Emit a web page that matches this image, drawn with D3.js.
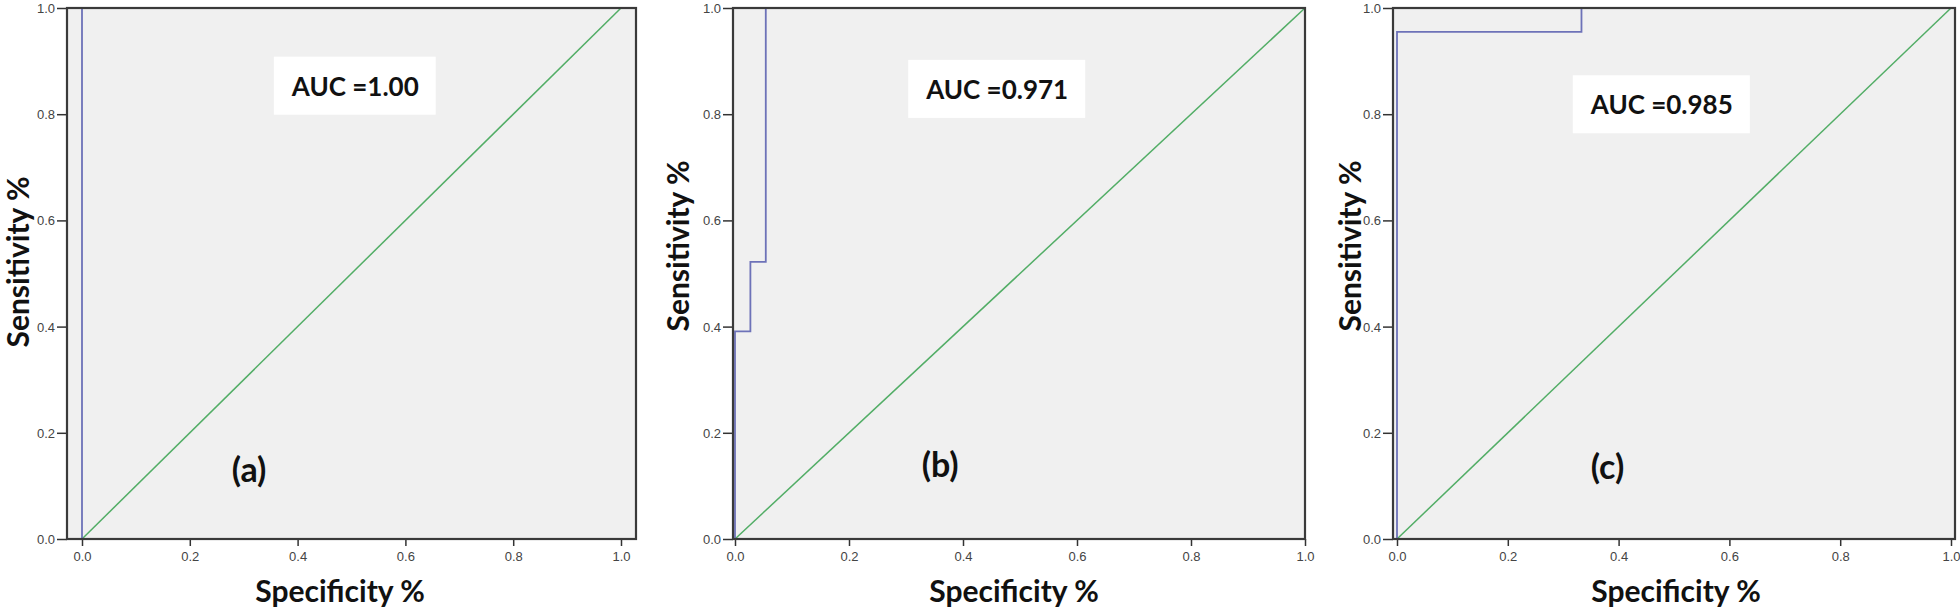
<!DOCTYPE html>
<html>
<head>
<meta charset="utf-8">
<script src="https://cdn.jsdelivr.net/npm/d3@7"></script>
<style>
  body { margin: 0; background: #fff; }
  .tick text { font-family: "Liberation Sans", Arial, sans-serif; font-size: 13px; fill: #444; }
  .axis-title { font-family: Lato, "Open Sans", sans-serif; font-weight: bold; font-size: 30px; fill: #111; }
  .auc { font-family: Lato, "Open Sans", sans-serif; font-weight: bold; font-size: 26px; fill: #111; }
  .plabel { font-family: Lato, "Open Sans", sans-serif; font-weight: bold; font-size: 34px; fill: #111; }
</style>
</head>
<body>
<div id="container"></div>
<script>
/* DATA */
const ticks = [0, 0.2, 0.4, 0.6, 0.8, 1.0];
const panelLabels = ["(a)", "(b)", "(c)"];
const aucLabels = ["AUC =1.00", "AUC =0.971", "AUC =0.985"];
const xTitle = "Specificity %";
const yTitle = "Sensitivity %";

// roc curves (x as plotted, y = sensitivity)
const specA = [0, 0, 1];
const sensA = [0, 1, 1];
const specB = [0, 0, 0.027, 0.027, 0.054, 0.054, 1];
const sensB = [0, 0.391, 0.391, 0.522, 0.522, 1, 1];
const specC = [0, 0, 0.333, 0.333, 1];
const sensC = [0, 0.955, 0.955, 1, 1];
// reference diagonal
const refLine = [0, 1];

/* LAYOUT */
const width = 1960, height = 609;
const panels = [
  { frame: [67, 636], xr: [82, 621], spec: specA, sens: sensA, auc: [0.507, 0.852], lab: [0.31, 0.13], xt: 340, yt: 18, yc: 262 },
  { frame: [733, 1305], xr: [735, 1305], spec: specB, sens: sensB, auc: [0.46, 0.846], lab: [0.36, 0.14], xt: 1014, yt: 678, yc: 246 },
  { frame: [1393, 1955], xr: [1397, 1951], spec: specC, sens: sensC, auc: [0.478, 0.817], lab: [0.38, 0.135], xt: 1676, yt: 1350, yc: 246 }
];
const yTop = 8, yBottom = 539;

const svg = d3.select("#container")
  .append("svg")
  .attr("width", width)
  .attr("height", height);

panels.forEach((p, i) => {
  const xScale = d3.scaleLinear().domain([0, 1]).range(p.xr);
  const yScale = d3.scaleLinear().domain([0, 1]).range([yBottom, yTop]);
  const g = svg.append("g");

  // plot background
  g.append("rect")
    .attr("x", p.frame[0]).attr("y", yTop)
    .attr("width", p.frame[1] - p.frame[0]).attr("height", yBottom - yTop)
    .attr("fill", "#f0f0f0");

  // axes
  const xAxis = d3.axisBottom(xScale).tickValues(ticks).tickFormat(d3.format(".1f")).tickSize(7).tickPadding(6);
  const yAxis = d3.axisLeft(yScale).tickValues(ticks).tickFormat(d3.format(".1f")).tickSize(10).tickPadding(2);

  const xg = g.append("g")
    .attr("transform", `translate(0, ${yBottom})`)
    .call(xAxis);
  xg.select(".domain").remove();
  xg.selectAll(".tick line").attr("stroke", "#333").attr("stroke-width", 1.5);

  const yg = g.append("g")
    .attr("transform", `translate(${p.frame[0]}, 0)`)
    .call(yAxis);
  yg.select(".domain").remove();
  yg.selectAll(".tick line").attr("stroke", "#333").attr("stroke-width", 1.5);
  yg.selectAll(".tick text").attr("dy", "0.35em");

  const line = d3.line().x(d => xScale(d[0])).y(d => yScale(d[1]));

  // diagonal
  g.append("path")
    .datum(refLine.map(v => [v, v]))
    .attr("d", line)
    .attr("fill", "none")
    .attr("stroke", "#52ad66")
    .attr("stroke-width", 1.5);

  // roc curve
  g.append("path")
    .datum(p.spec.map((s, k) => [s, p.sens[k]]))
    .attr("d", line)
    .attr("fill", "none")
    .attr("stroke", "#6d72b8")
    .attr("stroke-width", 1.8);

  // frame on top of the curves
  g.append("rect")
    .attr("x", p.frame[0]).attr("y", yTop)
    .attr("width", p.frame[1] - p.frame[0]).attr("height", yBottom - yTop)
    .attr("fill", "none")
    .attr("stroke", "#3a3a3a")
    .attr("stroke-width", 2.2);

  // auc box
  const at = g.append("text")
    .attr("class", "auc")
    .attr("x", xScale(p.auc[0]))
    .attr("y", yScale(p.auc[1]))
    .attr("text-anchor", "middle")
    .attr("dy", "0.35em")
    .text(aucLabels[i]);
  const bb = at.node().getBBox();
  g.insert("rect", ".auc")
    .attr("x", bb.x - 17).attr("y", bb.y - 13)
    .attr("width", bb.width + 34).attr("height", bb.height + 26)
    .attr("fill", "#fff");

  // panel label
  g.append("text")
    .attr("class", "plabel")
    .attr("x", xScale(p.lab[0]))
    .attr("y", yScale(p.lab[1]))
    .attr("text-anchor", "middle")
    .attr("dy", "0.35em")
    .text(panelLabels[i]);

  // axis titles
  g.append("text")
    .attr("class", "axis-title")
    .attr("x", p.xt)
    .attr("y", 591)
    .attr("text-anchor", "middle")
    .attr("dy", "0.35em")
    .text(xTitle);

  g.append("text")
    .attr("class", "axis-title")
    .attr("transform", `translate(${p.yt}, ${p.yc}) rotate(-90)`)
    .attr("text-anchor", "middle")
    .attr("dy", "0.35em")
    .text(yTitle);
});
</script>
</body>
</html>
